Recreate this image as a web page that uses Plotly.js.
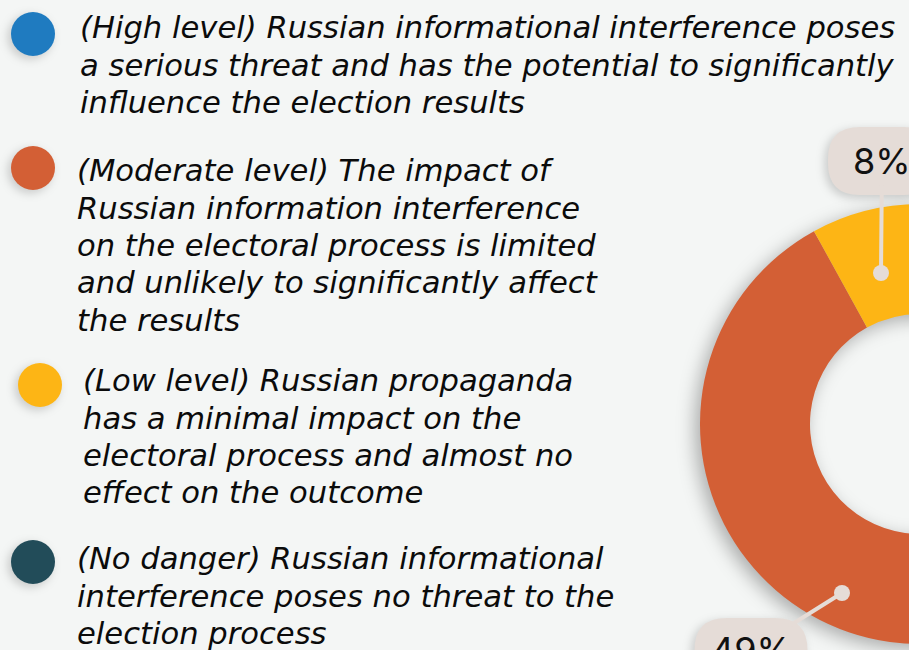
<!DOCTYPE html>
<html>
<head>
<meta charset="utf-8">
<script src="https://cdn.plot.ly/plotly-3.0.1.min.js"></script>
<style>
  html, body { margin: 0; padding: 0; background: #F4F6F5; overflow: hidden; }
  #chart { width: 1200px; height: 650px; }
  .pielayer { filter: drop-shadow(-5px 5px 9px rgba(0,0,0,0.30)); }
  .shapelayer path { filter: drop-shadow(-3px 3px 5px rgba(0,0,0,0.18)); }
</style>
</head>
<body>
<div id="chart"></div>
<script>
// ---- data ----
const categories = [
  "(High level) Russian informational interference poses<br>a serious threat and has the potential to significantly<br>influence the election results",
  "(Moderate level) The impact of<br>Russian information interference<br>on the electoral process is limited<br>and unlikely to significantly affect<br>the results",
  "(Low level) Russian propaganda<br>has a minimal impact on the<br>electoral process and almost no<br>effect on the outcome",
  "(No danger) Russian informational<br>interference poses no threat to the<br>election process"
];
const shares = [31, 49, 8, 12];          // percent (blue & teal slices are off-canvas in the reference)
const colors = ["#1F7BC0", "#D35F35", "#FDB515", "#224C59"];
const shownLabels = [false, true, true, false];

// ---- layout helpers (pixels -> paper) ----
const W = 1200, H = 650;
const px = v => v / W;
const py = v => 1 - v / H;

// pie geometry (pixels)
const cx = 920, cy = 424, R = 220;

// slices clockwise from 12 o'clock: No danger, High, Moderate, Low (Low ends at 12 o'clock)
const order = [3, 0, 1, 2];
const pie = {
  type: 'pie',
  labels: order.map(i => categories[i]),
  values: order.map(i => shares[i]),
  marker: { colors: order.map(i => colors[i]), line: { width: 0 } },
  hole: 0.5,
  sort: false,
  direction: 'clockwise',
  rotation: 0,
  textinfo: 'none',
  hoverinfo: 'label+percent',
  showlegend: false,
  domain: { x: [px(cx - R), px(cx + R)], y: [py(cy + R), py(cy - R)] }
};

// ---- legend (circles + wrapped italic text) ----
const legendStyle = [
  { c: [33, 34],  x: 78, b0: 39 },
  { c: [33, 168], x: 75, b0: 182 },
  { c: [40, 385], x: 81, b0: 392 },
  { c: [33, 562], x: 75, b0: 570 }
];
const FS = 30.6, LH = 37.3, RAD = 22;
const shapes = [];
const annotations = [];
categories.forEach((txt, i) => {
  const s = legendStyle[i];
  shapes.push({
    type: 'circle', xref: 'paper', yref: 'paper', layer: 'above',
    x0: px(s.c[0] - RAD), x1: px(s.c[0] + RAD), y0: py(s.c[1] + RAD), y1: py(s.c[1] - RAD),
    fillcolor: colors[i], line: { width: 0 }
  });
  txt.split('<br>').forEach((line, k) => {
    annotations.push({
      xref: 'paper', yref: 'paper', x: px(s.x), y: py(s.b0 + k * LH - FS * 0.36),
      xanchor: 'left', yanchor: 'middle', showarrow: false,
      text: '<i>' + line + '</i>',
      font: { family: '"DejaVu Sans", sans-serif', size: FS, color: '#0B0B0B' }
    });
  });
});

// ---- value bubbles ----
const bubbleStyle = [
  null,
  { dot: [842, 593], lab: [751, 652], w: 113 },
  { dot: [881, 273], lab: [882, 161], w: 108 },
  null
];
function roundRect(x0, y0, x1, y1, r) {
  const P = (x, y) => px(x) + ',' + py(y);
  return 'M' + P(x0 + r, y0) + ' L' + P(x1 - r, y0) + ' Q' + P(x1, y0) + ' ' + P(x1, y0 + r) +
         ' L' + P(x1, y1 - r) + ' Q' + P(x1, y1) + ' ' + P(x1 - r, y1) +
         ' L' + P(x0 + r, y1) + ' Q' + P(x0, y1) + ' ' + P(x0, y1 - r) +
         ' L' + P(x0, y0 + r) + ' Q' + P(x0, y0) + ' ' + P(x0 + r, y0) + ' Z';
}
shares.forEach((v, i) => {
  if (!shownLabels[i]) return;
  const b = bubbleStyle[i];
  const hw = b.w / 2, hh = 34;
  shapes.push({
    type: 'path', xref: 'paper', yref: 'paper', layer: 'above',
    path: roundRect(b.lab[0] - hw, b.lab[1] - hh, b.lab[0] + hw, b.lab[1] + hh, 32),
    fillcolor: '#E5DCD7', line: { width: 0 }
  });
  annotations.push({
    xref: 'paper', yref: 'paper', x: px(b.dot[0]), y: py(b.dot[1]),
    ax: b.lab[0] - b.dot[0], ay: b.lab[1] - b.dot[1],
    text: v + '%', showarrow: true, arrowhead: 6, arrowsize: 1, arrowwidth: 4,
    arrowcolor: '#E5DCD7', standoff: 0,
    font: { family: 'Inter, sans-serif', size: 36, color: '#111111' }
  });
});

const layout = {
  width: W, height: H,
  margin: { l: 0, r: 0, t: 0, b: 0 },
  paper_bgcolor: '#F4F6F5', plot_bgcolor: '#F4F6F5',
  shapes: shapes, annotations: annotations,
  showlegend: false
};
Plotly.newPlot('chart', [pie], layout, { displayModeBar: false, staticPlot: true });
</script>
</body>
</html>
